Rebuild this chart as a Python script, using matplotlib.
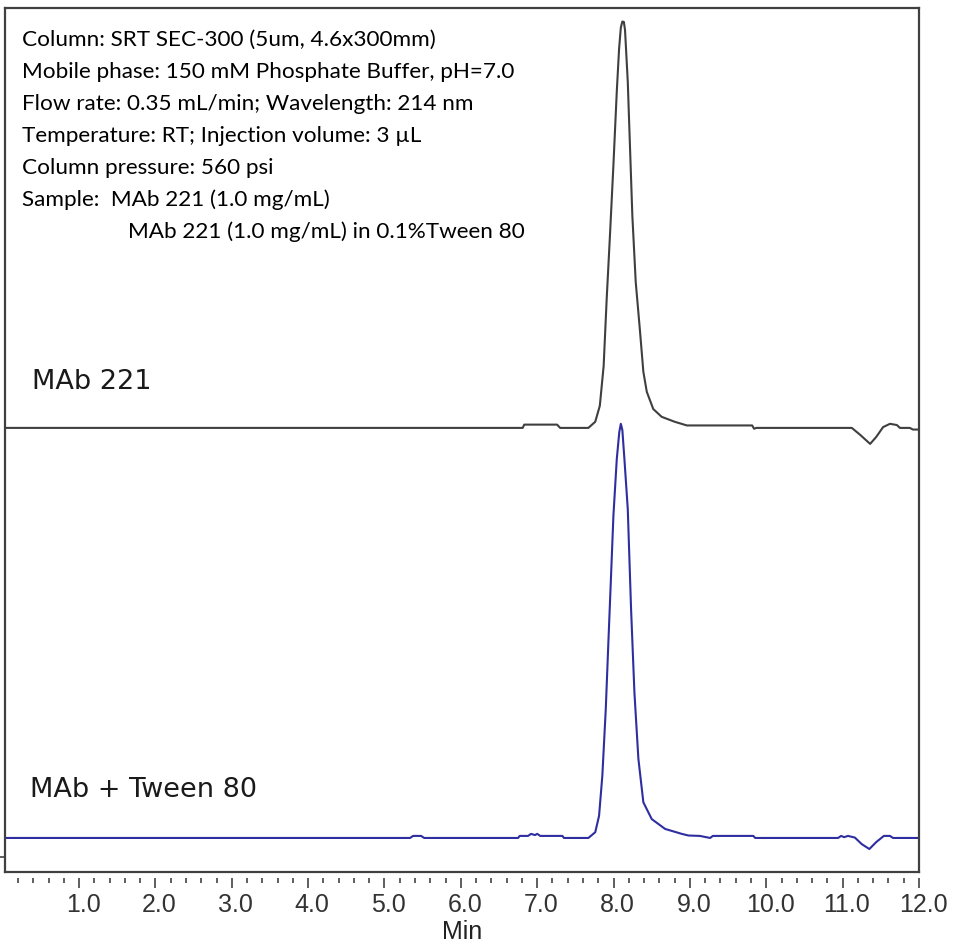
import numpy as np
import matplotlib.pyplot as plt
import matplotlib.transforms as mtransforms
from matplotlib.ticker import MultipleLocator

# retention time (min) / detector signal
time_mab = [0.03, 6.81, 6.83, 7.26, 7.30, 7.67, 7.76, 7.82, 7.87, 7.91, 7.955, 7.998,
            8.042, 8.072, 8.095, 8.115, 8.135, 8.15, 8.186, 8.216, 8.246, 8.29, 8.347,
            8.39, 8.435, 8.52, 8.63, 8.80, 8.96, 9.815, 9.84, 9.87, 11.12, 11.23, 11.36,
            11.44, 11.53, 11.62, 11.71, 11.75, 11.88, 11.92, 12.0]
signal_mab = [0, 0, 0.8, 0.8, 0, 0, 1.5, 5.4, 15.1, 31.5, 47.8, 64.1,
              82.0, 92.4, 97.6, 99.1, 99.0, 97.0, 84.4, 68.0, 51.7, 35.6, 23.4,
              13.7, 8.8, 4.6, 2.7, 1.5, 0.6, 0.6, -0.2, 0, 0, -1.7, -3.9,
              -2.2, 0.2, 1.0, 0.7, 0, 0, -0.4, -0.4]

time_tween = [0.03, 5.335, 5.375, 5.48, 5.52, 6.75, 6.77, 6.88, 6.92, 6.97, 7.0, 7.04,
              7.33, 7.35, 7.67, 7.76, 7.81, 7.853, 7.898, 7.932, 7.967, 7.998, 8.042,
              8.075, 8.095, 8.115, 8.142, 8.186, 8.229, 8.273, 8.325, 8.39, 8.50, 8.675,
              8.893, 8.98, 9.13, 9.265, 9.30, 9.83, 9.855, 10.94, 10.98, 11.02, 11.07,
              11.16, 11.25, 11.35, 11.44, 11.54, 11.62, 11.66, 12.0]
signal_tween = [0, 0, 0.5, 0.5, 0, 0, 0.5, 0.5, 1.0, 0.7, 1.0, 0.5,
                0.5, 0, 0, 1.4, 5.4, 15.2, 31.5, 47.7, 64.0, 78.6, 92.4,
                99.0, 101.0, 99.5, 92.4, 80.2, 55.9, 35.5, 19.3, 8.7, 4.6, 2.2,
                1.0, 0.6, 0.5, 0, 0.5, 0.5, 0, 0, 0.5, 0.2, 0.5,
                0.1, -1.5, -2.7, -1.0, 0.5, 0.5, 0, 0]

mab_offset = 100

x_ticks = [1, 2, 3, 4, 5, 6, 7, 8, 9, 10, 11, 12]
x_labels = [f"{v:.1f}" for v in x_ticks]

info_lines = [
    "Column: SRT SEC-300 (5um, 4.6x300mm)",
    "Mobile phase: 150 mM Phosphate Buffer, pH=7.0",
    "Flow rate: 0.35 mL/min; Wavelength: 214 nm",
    "Temperature: RT; Injection volume: 3 \u00b5L",
    "Column pressure: 560 psi",
    "Sample:  MAb 221 (1.0 mg/mL)",
]
sample_line2 = "MAb 221 (1.0 mg/mL) in 0.1%Tween 80"

W, H = 955, 945
fig = plt.figure(figsize=(W / 100, H / 100), dpi=100)
ax = fig.add_axes([5 / W, 1 - 873 / H, 914 / W, 864 / H])

frame = "#404040"
ax.plot(time_mab, np.array(signal_mab) + mab_offset, color="#3f3f3f", lw=1.5)
ax.plot(time_tween, signal_tween, color="#2e2ea0", lw=1.5)

ax.set_xlim(0.03, 12.0)
ax.set_ylim(-8.3, 202.4)

for side in ["top", "left", "right"]:
    ax.spines[side].set_color(frame)
    ax.spines[side].set_linewidth(1.6)
# ticks hang a little below the frame
ax.spines["bottom"].set_position(("outward", 4))
ax.spines["bottom"].set_visible(False)
ax.axhline(ax.get_ylim()[0], color=frame, lw=1.6, clip_on=False)

ax.set_xticks(x_ticks)
ax.set_xticklabels(x_labels, family="Liberation Sans")
ax.xaxis.set_minor_locator(MultipleLocator(0.2))
ax.tick_params(axis="x", which="major", direction="out", length=7.5, width=1.1,
               color="#333333", labelcolor="#333333", labelsize=18, pad=3)
ax.tick_params(axis="x", which="minor", direction="out", length=3.5, width=1.1,
               color="#333333")
offset = mtransforms.ScaledTranslation(0.04, 0, fig.dpi_scale_trans)
for lab in ax.get_xticklabels():
    lab.set_transform(lab.get_transform() + offset)

ax.set_yticks([-4.6])
ax.set_yticklabels([])
ax.tick_params(axis="y", direction="out", length=3.5, width=1.1, color="#333333")

ax.set_xlabel("Min", family="Liberation Sans", fontsize=18, color="#222222", labelpad=2)

ax.text(0.385, 109.8, "MAb 221", family="DejaVu Sans", fontsize=19.5,
        color="#1a1a1a", va="baseline")
ax.text(0.36, 10.2, "MAb + Tween 80", family="DejaVu Sans", fontsize=19.5,
        color="#1a1a1a", va="baseline")

y0, step = 46, 32
for i, line in enumerate(info_lines):
    fig.text(22 / W, 1 - (y0 + i * step) / H, line, family="Lato", fontsize=16.2,
             color="black", va="baseline")
fig.text(128 / W, 1 - (y0 + len(info_lines) * step) / H, sample_line2, family="Lato",
         fontsize=16.2, color="black", va="baseline")

fig.savefig("out.png", dpi=100)
